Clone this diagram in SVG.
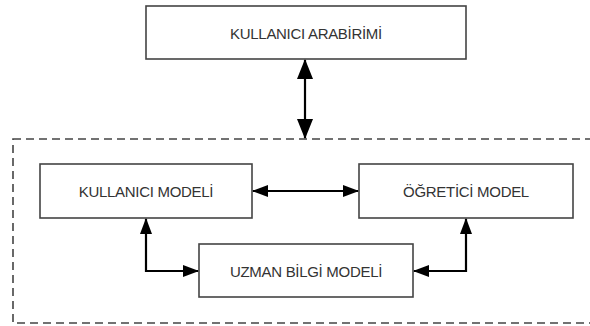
<svg xmlns="http://www.w3.org/2000/svg" width="590" height="326" viewBox="0 0 590 326">
<defs>
<marker id="ah" markerWidth="20" markerHeight="18" refX="19" refY="9" orient="auto-start-reverse" markerUnits="userSpaceOnUse">
<path d="M0,1 L20,9 L0,17 Z" fill="#000"/>
</marker>
<marker id="ahs" markerWidth="16" markerHeight="14" refX="15" refY="7" orient="auto-start-reverse" markerUnits="userSpaceOnUse">
<path d="M0,1 L16,7 L0,13 Z" fill="#000"/>
</marker>
</defs>
<style>
.box{fill:#fff;stroke:#444;stroke-width:1.6}
.lbl{font-family:"Liberation Sans",Arial,sans-serif;font-size:15px;fill:#333;text-anchor:middle;dominant-baseline:central;letter-spacing:-0.3px}
.con{fill:none;stroke:#000;stroke-width:2.2}
.dash{fill:none;stroke:#444;stroke-width:1.6;stroke-dasharray:8 5}
</style>
<rect class="dash" x="13" y="139" width="590" height="184"/>
<g id="kullanici-arabirimi"><rect class="box" x="146" y="6" width="320" height="53"/><text class="lbl" x="306" y="33">KULLANICI ARABİRİMİ</text></g>
<g id="kullanici-modeli"><rect class="box" x="40" y="164" width="212" height="54"/><text class="lbl" x="146" y="191">KULLANICI MODELİ</text></g>
<g id="ogretici-model"><rect class="box" x="359" y="164" width="214" height="54"/><text class="lbl" x="466" y="191">ÖĞRETİCİ MODEL</text></g>
<g id="uzman-bilgi-modeli"><rect class="box" x="199" y="244" width="214" height="53"/><text class="lbl" x="306" y="271">UZMAN BİLGİ MODELİ</text></g>
<g id="connectors">
<path class="con" d="M305,60 L305,138" marker-start="url(#ah)" marker-end="url(#ah)"/>
<path class="con" d="M253,191 L358,191" marker-start="url(#ahs)" marker-end="url(#ahs)"/>
<path class="con" d="M146,219 L146,271 L198,271" marker-start="url(#ahs)" marker-end="url(#ahs)"/>
<path class="con" d="M466,219 L466,271 L414,271" marker-start="url(#ahs)" marker-end="url(#ahs)"/>
</g>
</svg>
